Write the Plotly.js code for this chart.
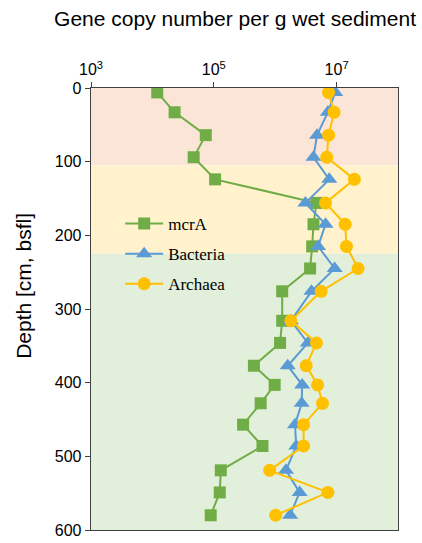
<!DOCTYPE html>
<html><head><meta charset="utf-8">
<script src="https://cdn.plot.ly/plotly-3.0.1.min.js"></script>
<style>body{margin:0;background:#fff}#c{width:422px;height:543px}</style>
</head><body><div id="c"></div>
<script>
const depth = [6,33,64,94,124,156,185,215,245,276,316,346,377,403,428,457,486,519,549,580];
const mcrA = [1.2e4,2.3e4,7.4e4,4.7e4,1.05e5,4.7e6,4.2e6,4.0e6,3.7e6,1.3e6,1.3e6,1.2e6,4.5e5,9.8e5,5.8e5,3.0e5,6.2e5,1.3e5,1.25e5,8.9e4];
const bacteria = [9.5e6,7.2e6,4.8e6,4.2e6,7.6e6,3.1e6,6.6e6,5.0e6,9.3e6,3.9e6,1.8e6,3.4e6,1.6e6,2.75e6,2.7e6,2.1e6,2.2e6,1.5e6,2.5e6,1.75e6];
const archaea = [7.4e6,9.1e6,7.4e6,6.9e6,1.95e7,6.6e6,1.38e7,1.45e7,2.24e7,5.6e6,1.8e6,4.7e6,3.2e6,4.9e6,5.9e6,2.9e6,2.9e6,8.1e5,7.2e6,1.02e6];
const zones = [[0,105],[105,225],[225,600]];
const zoneColors = ['#FBE5D6','#FFF2CC','#E2EFDA'];
const xTickVals = [1e3,1e5,1e7];
const xTickText = ['10<sup>3</sup>','10<sup>5</sup>','10<sup>7</sup>'];
const yTickVals = [0,100,200,300,400,500,600];

const traces = [
 {x:mcrA,y:depth,name:'mcrA',mode:'lines+markers',legendgroup:'a',
  line:{color:'#70AD47',width:2},marker:{symbol:'square',size:12,color:'#70AD47'}},
 {x:bacteria,y:depth,name:'Bacteria',mode:'lines+markers',legendgroup:'b',
  line:{color:'#5B9BD5',width:2},marker:{symbol:'triangle-up',size:14,color:'#5B9BD5'}},
 {x:archaea,y:depth,name:'Archaea',mode:'lines+markers',legendgroup:'c',
  line:{color:'#FFC000',width:2},marker:{symbol:'circle',size:13,color:'#FFC000'}}
];
const shapes = zones.map((z,i)=>({type:'rect',xref:'paper',yref:'y',x0:0,x1:1,y0:z[0],y1:z[1],
  fillcolor:zoneColors[i],line:{width:0},layer:'below'}));
const layout = {
 width:422,height:543,margin:{l:91,r:24,t:88,b:13},
 paper_bgcolor:'#fff',plot_bgcolor:'#fff',showlegend:true,
 font:{family:'Liberation Sans, Arial, sans-serif',color:'#000'},
 title:{text:'Gene copy number per g wet sediment',x:0.557,xanchor:'center',y:0.966,yanchor:'middle',
   font:{size:21,color:'#000'}},
 xaxis:{type:'log',side:'top',range:[3,8],tickvals:xTickVals,ticktext:xTickText,
   ticks:'outside',ticklen:5,tickcolor:'#404040',showgrid:false,zeroline:false,
   showline:true,mirror:true,linecolor:'#404040',linewidth:1.3,tickfont:{size:16,color:'#000'}},
 yaxis:{range:[600,0],tickvals:yTickVals,ticks:'outside',ticklen:5,tickcolor:'#404040',
   showgrid:false,zeroline:false,showline:true,mirror:true,linecolor:'#404040',linewidth:1.3,
   tickfont:{size:16,color:'#000'}},
 annotations:[{text:'Depth [cm, bsfl]',xref:'paper',yref:'paper',x:-0.222,y:0.552,
   xanchor:'center',yanchor:'middle',textangle:-90,showarrow:false,font:{size:21,color:'#000'}}],
 legend:{x:0.095,y:0.733,xanchor:'left',yanchor:'top',bgcolor:'rgba(0,0,0,0)',
   traceorder:'grouped',tracegroupgap:5,itemwidth:38,
   font:{family:'Liberation Serif, Times New Roman, serif',size:17,color:'#000'}},
 shapes:shapes
};
Plotly.newPlot('c',traces,layout,{displayModeBar:false,staticPlot:true});
</script></body></html>
